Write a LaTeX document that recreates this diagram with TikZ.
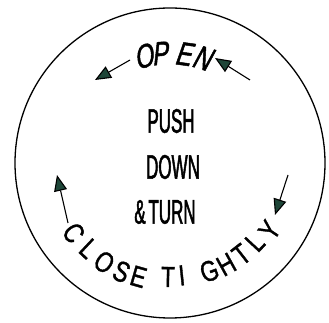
\documentclass[tikz,border=0pt]{standalone}
\usepackage{fontspec}
\usetikzlibrary{arrows.meta}
\newfontfamily\midfont[FakeStretch=0.5,FakeBold=1.4]{Liberation Sans}
\newfontfamily\topfont[FakeStretch=0.72,FakeSlant=0.2,FakeBold=1.4]{Liberation Sans}
\newfontfamily\botfont[FakeStretch=0.78,FakeBold=1.2]{Liberation Sans}
\definecolor{headgreen}{HTML}{1E4638}
\tikzset{
  midtxt/.style={inner sep=0pt, font=\midfont\fontsize{34}{36}\selectfont},
  toptxt/.style={inner sep=0pt, font=\topfont\fontsize{33}{36}\selectfont},
  bottxt/.style={inner sep=0pt, font=\botfont\fontsize{29}{32}\selectfont},
  arr/.style={line width=1.1pt, -{Triangle[length=16pt,width=13pt,fill=headgreen]}},
}
\begin{document}
\begin{tikzpicture}[x=1pt,y=1pt]
\useasboundingbox (0,0) rectangle (329,323);
\coordinate (c) at (170,160);
\draw[line width=1.3pt] (c) circle[radius=155];
% centre text
\node[midtxt] (push) at (171,202) {PUSH};
\node[midtxt] (down) at (173,156) {DOWN};
\node[midtxt] (turn) at (165,111) {\&\hspace{-2pt} TURN};
% top text
\node[toptxt, rotate=13] (o1) at ([shift={(104:110)}]c) {O};
\node[toptxt, rotate=5] (p1) at ([shift={(95.5:110)}]c) {P};
\node[toptxt, rotate=-8] (e1) at ([shift={(83:110)}]c) {E};
\node[toptxt, rotate=-17] (n1) at ([shift={(73:110)}]c) {N};
% bottom text
\node[bottxt, rotate=-54] (b1) at ([shift={(216:119)}]c) {C};
\node[bottxt, rotate=-43] (b2) at ([shift={(226.5:118)}]c) {L};
\node[bottxt, rotate=-33] (b3) at ([shift={(236.5:119)}]c) {O};
\node[bottxt, rotate=-24] (b4) at ([shift={(246:119)}]c) {S};
\node[bottxt, rotate=-16] (b5) at ([shift={(254.5:118)}]c) {E};
\node[bottxt, rotate=-1] (b6) at ([shift={(269:114)}]c) {T};
\node[bottxt, rotate=6] (b7) at ([shift={(276:113)}]c) {I};
\node[bottxt, rotate=20] (b8) at ([shift={(290:115)}]c) {G};
\node[bottxt, rotate=29] (b9) at ([shift={(299:116)}]c) {H};
\node[bottxt, rotate=38] (b10) at ([shift={(308:116)}]c) {T};
\node[bottxt, rotate=47] (b11) at ([shift={(317:116)}]c) {L};
\node[bottxt, rotate=56] (b12) at ([shift={(326:120)}]c) {Y};
% arrows
\coordinate (a1s) at (130,263); \coordinate (a1e) at (95,243);
\coordinate (a2s) at (250,243); \coordinate (a2e) at (215,265);
\coordinate (a3s) at (68,100);  \coordinate (a3e) at (57,148);
\coordinate (a4s) at (288,148); \coordinate (a4e) at (275,108);
\draw[arr] (a1s) -- (a1e);
\draw[arr] (a2s) -- (a2e);
\draw[arr] (a3s) -- (a3e);
\draw[arr] (a4s) -- (a4e);
\end{tikzpicture}
\end{document}
